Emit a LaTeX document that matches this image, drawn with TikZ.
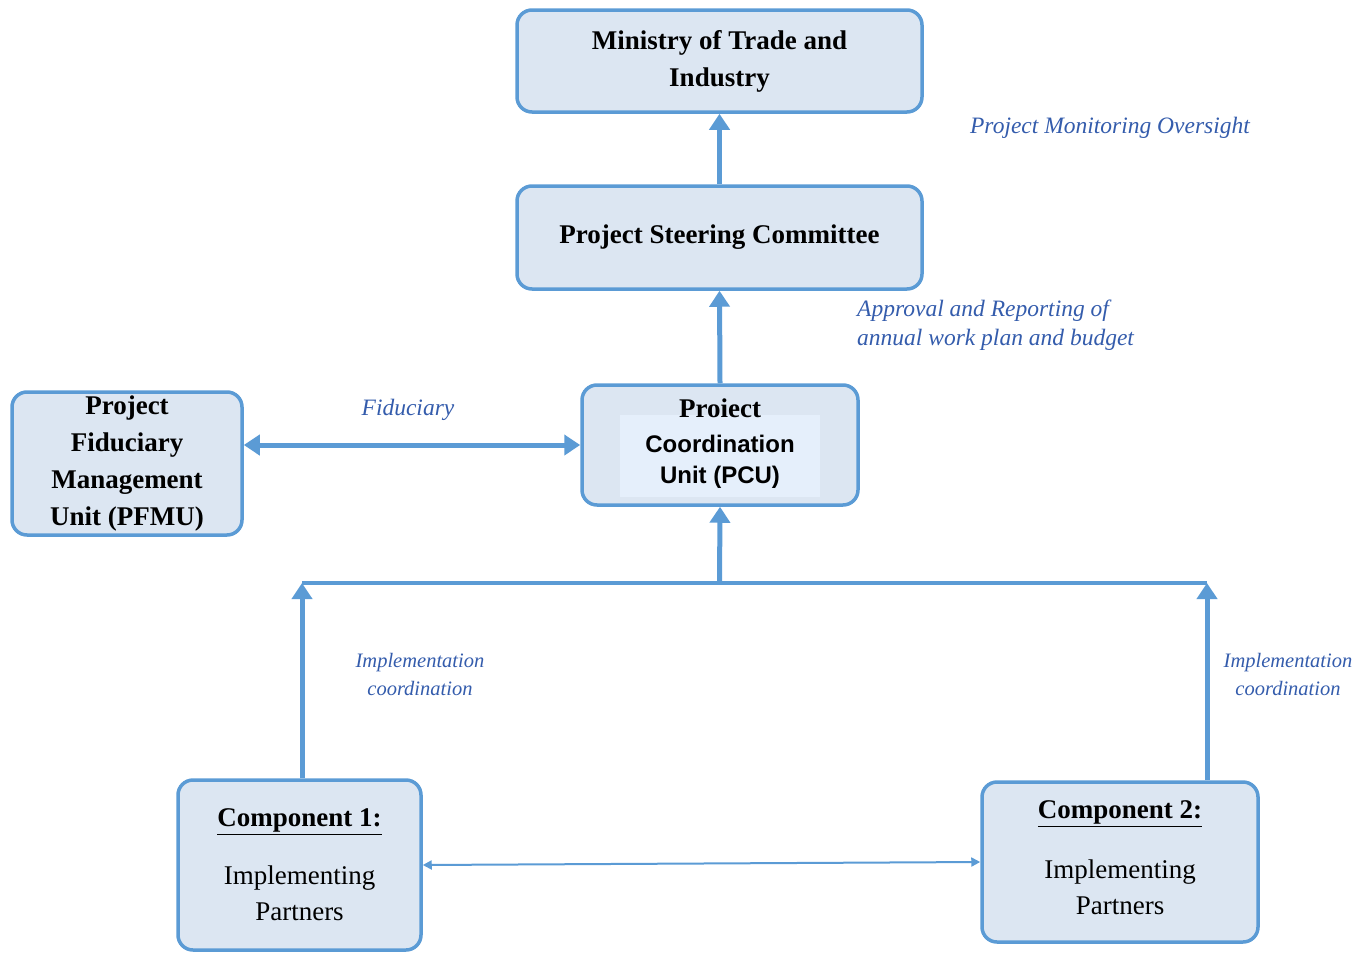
\documentclass[tikz,border=0pt]{standalone}
\usepackage{fontspec}
\setmainfont{Liberation Serif}
\setsansfont{Liberation Sans}
\usetikzlibrary{arrows.meta}
\definecolor{edge}{RGB}{91,155,213}
\definecolor{boxfill}{RGB}{220,230,242}
\definecolor{innerfill}{RGB}{229,239,251}
\definecolor{labelblue}{RGB}{52,92,172}
\tikzset{
  unitbox/.style={draw=edge, line width=3.5pt, fill=boxfill, rounded corners=15pt,
    inner sep=0pt, align=center, text=black},
  boxfont/.style={font=\bfseries\fontsize{27}{37}\selectfont},
  flow/.style={draw=edge, line width=5pt, -{Triangle[length=16pt,width=20pt]}},
  twoway/.style={draw=edge, line width=5pt, {Triangle[length=16pt,width=20pt]}-{Triangle[length=16pt,width=20pt]}},
  busline/.style={draw=edge, line width=3.5pt},
  peerline/.style={draw=edge, line width=2pt, {Triangle[length=9pt,width=9pt]}-{Triangle[length=9pt,width=9pt]}},
  note/.style={text=labelblue, font=\itshape\fontsize{23.5}{29}\selectfont, inner sep=0pt},
  implnote/.style={note, align=center, font=\itshape\fontsize{20.5}{28}\selectfont}
}
\begin{document}
\begin{tikzpicture}[x=1pt,y=-1pt]
\useasboundingbox (0,0) rectangle (1359,953);

% organisational units
\node[unitbox, boxfont, minimum width=405pt, minimum height=102pt] (mti) at (719.5,61)
  {Ministry of Trade and\\Industry};
\node[unitbox, boxfont, minimum width=405pt, minimum height=103pt] (psc) at (719.5,237.5)
  {Project Steering Committee};
\node[unitbox, minimum width=276pt, minimum height=120pt,
  font=\sffamily\bfseries\fontsize{24}{31}\selectfont,
  path picture={\fill[innerfill, sharp corners]
    ([xshift=38pt,yshift=-30pt]path picture bounding box.north west) rectangle
    ([xshift=-38pt,yshift=8pt]path picture bounding box.south east);}] (pcu) at (720,445)
  {{\rmfamily\fontsize{27}{31}\selectfont Proiect}\\[4pt]Coordination\\Unit (PCU)\\[-23pt]\mbox{}};
\node[unitbox, boxfont, minimum width=230pt, minimum height=143pt] (pfmu) at (127,463.5)
  {Project\\Fiduciary\\Management\\Unit (PFMU)};
\node[unitbox, minimum width=243pt, minimum height=170pt,
  font=\fontsize{27}{36}\selectfont] (c1) at (299.5,865)
  {\textbf{\underline{Component 1:}}\\[22pt]Implementing\\Partners};
\node[unitbox, minimum width=276pt, minimum height=160pt,
  font=\fontsize{27}{36}\selectfont] (c2) at (1120,862)
  {\textbf{\underline{Component 2:}}\\[24pt]Implementing\\Partners\\[-28pt]\mbox{}};

% reporting lines
\coordinate (hub) at (719.5,583);
\coordinate (busL) at (302,583);
\coordinate (busR) at (1207,583);
\draw[flow] (psc.north) -- (mti.south);
\draw[flow] (pcu.north) -- (psc.south);
\draw[twoway] (pfmu.east |- pcu.west) -- (pcu.west);
\draw[busline] (busL) -- (busR);
\draw[flow] (hub) -- (pcu.south);
\draw[flow] (busL |- c1.north) -- (busL);
\draw[flow] (busR |- c2.north) -- (busR);
\draw[peerline] (c1.east) -- (c2.west);

% relationship notes
\node[note] (nmon) at (1110,128) {Project Monitoring Oversight};
\node[note, align=left, anchor=west] (nappr) at (857,325)
  {Approval and Reporting of\\annual work plan and budget};
\node[note] (nfid) at (408,410) {Fiduciary};
\node[implnote] (nimp1) at (420,674) {Implementation\\coordination};
\node[implnote] (nimp2) at (1288,674) {Implementation\\coordination};
\end{tikzpicture}
\end{document}
